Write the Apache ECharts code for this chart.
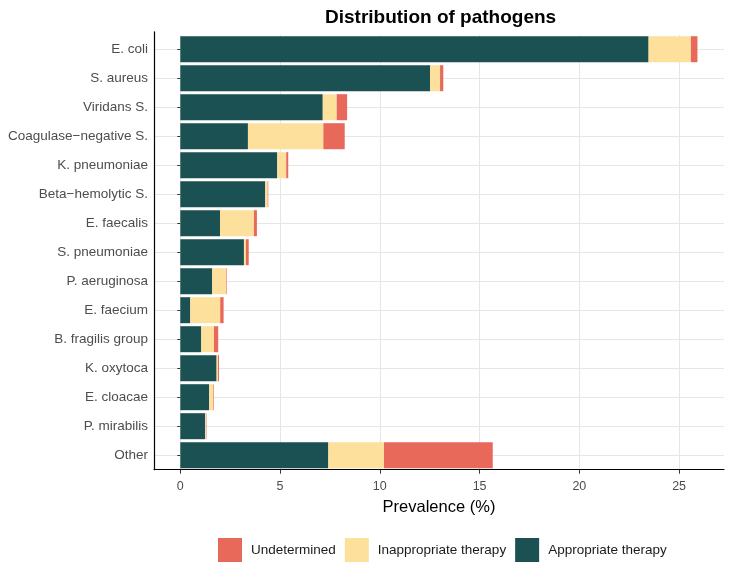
<!DOCTYPE html>
<html>
<head>
<meta charset="utf-8">
<script src="https://cdn.jsdelivr.net/npm/echarts@6/dist/echarts.min.js"></script>
<style>html,body{margin:0;padding:0;background:#fff}#c{width:741px;height:577px}</style>
</head>
<body>
<div id="c"></div>
<script>
const categories = ['E. coli','S. aureus','Viridans S.','Coagulase\u2212negative S.','K. pneumoniae','Beta\u2212hemolytic S.','E. faecalis','S. pneumoniae','P. aeruginosa','E. faecium','B. fragilis group','K. oxytoca','E. cloacae','P. mirabilis','Other'];
const appropriate   = [23.47, 12.52, 7.14, 3.39, 4.86, 4.26, 1.99, 3.19, 1.60, 0.50, 1.05, 1.82, 1.45, 1.25, 7.42];
const inappropriate = [2.12, 0.50, 0.70, 3.78, 0.45, 0.12, 1.70, 0.10, 0.69, 1.50, 0.64, 0.07, 0.20, 0.04, 2.79];
const undetermined  = [0.33, 0.16, 0.52, 1.07, 0.10, 0.03, 0.15, 0.14, 0.03, 0.17, 0.21, 0.05, 0.03, 0.02, 5.45];
const xTicks = [0, 5, 10, 15, 20, 25];
const legendOrder = ['Undetermined', 'Inappropriate therapy', 'Appropriate therapy'];

const FONT = 'Liberation Sans';
const C_APP = '#1B5152', C_INAPP = '#FDE09B', C_UND = '#E86859';

const chart = echarts.init(document.getElementById('c'), null, {renderer: 'canvas'});
const option = {
  backgroundColor: '#fff',
  animation: false,
  textStyle: {fontFamily: FONT},
  title: {
    text: 'Distribution of pathogens',
    left: 320, top: 3,
    textStyle: {fontFamily: FONT, fontSize: 19, fontWeight: 'bold', color: '#000'}
  },
  legend: {
    data: legendOrder,
    left: 213, top: 533,
    itemWidth: 24, itemHeight: 24, itemGap: 9,
    icon: 'rect',
    textStyle: {fontFamily: FONT, fontSize: 13.5, color: '#1a1a1a', padding: [0, 0, 0, 4]}
  },
  grid: [
    {left: 180.3, right: 17, top: 34.7, height: 435},
    {left: 154, right: 17, top: 49.2, height: 406},
    {left: 154, right: 17, top: 31.8, height: 437.9}
  ],
  xAxis: [
    {
      gridIndex: 0, type: 'value', min: 0, max: 27.25, interval: 5,
      axisLine: {show: false},
      axisTick: {show: true, length: 4, lineStyle: {color: '#333'}, customValues: xTicks},
      axisLabel: {fontFamily: FONT, fontSize: 12.5, color: '#4d4d4d', margin: 10, customValues: xTicks},
      splitLine: {show: true, lineStyle: {color: '#e6e6e6', width: 1}}
    },
    {gridIndex: 1, type: 'value', min: 0, max: 1, show: false},
    {
      gridIndex: 2, type: 'value', min: 0, max: 1,
      axisLine: {show: true, lineStyle: {color: '#000', width: 1.2}},
      axisTick: {show: false}, axisLabel: {show: false}, splitLine: {show: false},
      name: 'Prevalence (%)', nameLocation: 'middle', nameGap: 29,
      nameTextStyle: {fontFamily: FONT, fontSize: 16.5, color: '#000'}
    }
  ],
  yAxis: [
    {
      gridIndex: 0, type: 'category', data: categories, inverse: true, offset: 26.3,
      axisLine: {show: false},
      axisTick: {show: true, alignWithLabel: true, length: 3, lineStyle: {color: '#333'}},
      axisLabel: {fontFamily: FONT, fontSize: 13.5, color: '#4d4d4d', margin: 6},
      splitLine: {show: false}
    },
    {
      gridIndex: 1, type: 'value', min: 0, max: 14, interval: 1,
      axisLine: {show: false}, axisTick: {show: false}, axisLabel: {show: false},
      splitLine: {show: true, lineStyle: {color: '#e6e6e6', width: 1}}
    },
    {
      gridIndex: 2, type: 'value', min: 0, max: 1,
      axisLine: {show: true, lineStyle: {color: '#000', width: 1.2}},
      axisTick: {show: false}, axisLabel: {show: false}, splitLine: {show: false}
    }
  ],
  series: [
    {name: 'Appropriate therapy', type: 'bar', stack: 't', xAxisIndex: 0, yAxisIndex: 0, barWidth: 26, data: appropriate, itemStyle: {color: C_APP}},
    {name: 'Inappropriate therapy', type: 'bar', stack: 't', xAxisIndex: 0, yAxisIndex: 0, barWidth: 26, data: inappropriate, itemStyle: {color: C_INAPP}},
    {name: 'Undetermined', type: 'bar', stack: 't', xAxisIndex: 0, yAxisIndex: 0, barWidth: 26, data: undetermined, itemStyle: {color: C_UND}}
  ]
};
chart.setOption(option);
</script>
</body>
</html>
